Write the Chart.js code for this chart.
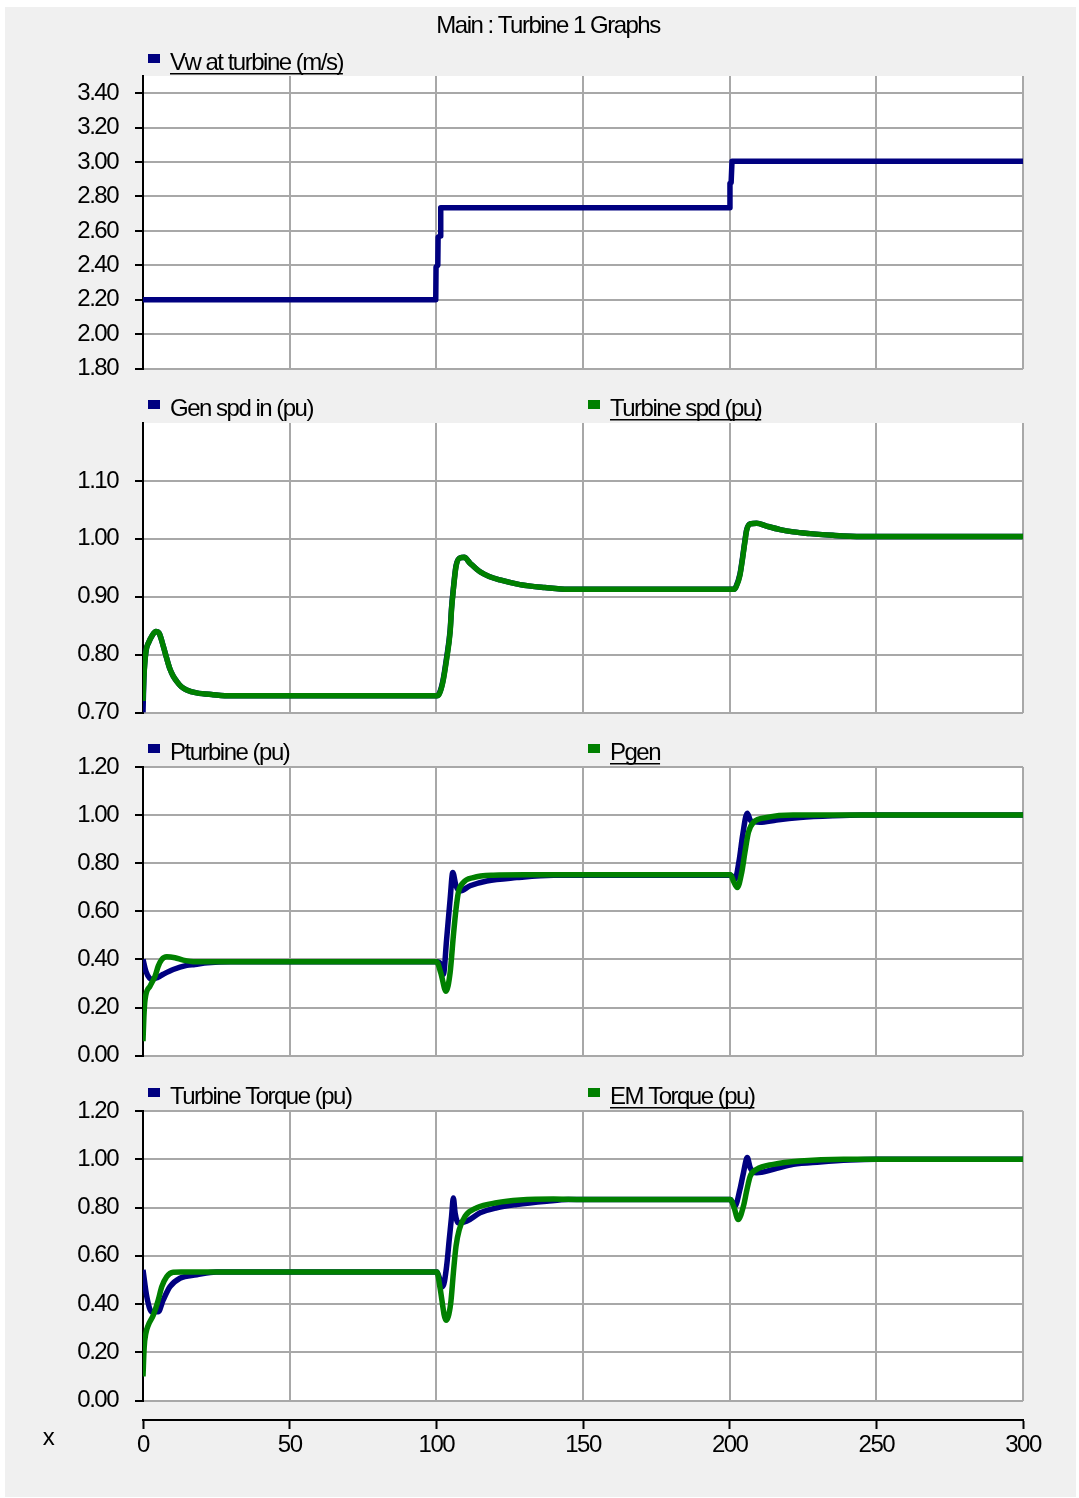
<!DOCTYPE html>
<html><head><meta charset="utf-8">
<script src="https://cdn.jsdelivr.net/npm/chart.js@4.4.0/dist/chart.umd.min.js"></script>
<style>
html,body{margin:0;padding:0;background:#fff;width:1079px;height:1498px;overflow:hidden}
#frame{position:absolute;left:5px;top:7px;width:1071px;height:1490px;background:#f0f0f0}
canvas{position:absolute;left:0}
</style></head><body>
<div id="frame"></div>
<canvas id="c1"></canvas>
<canvas id="c2"></canvas>
<canvas id="c3"></canvas>
<canvas id="c4"></canvas>
<canvas id="cx"></canvas>
<script>
// ---------------- DATA ----------------
const chartTitle = "Main : Turbine 1 Graphs";
const xTicks = [0, 50, 100, 150, 200, 250, 300];
const vwTicks = [1.8, 2.0, 2.2, 2.4, 2.6, 2.8, 3.0, 3.2, 3.4];
const spdTicks = [0.7, 0.8, 0.9, 1.0, 1.1];
const pTicks = [0, 0.2, 0.4, 0.6, 0.8, 1.0, 1.2];
const tqTicks = [0, 0.2, 0.4, 0.6, 0.8, 1.0, 1.2];

// Panel 1: wind speed
const vwLabel = "Vw at turbine (m/s)";
const vwT = [0, 99.8, 99.9, 100.5, 100.6, 101.3, 101.5, 200.0, 200.1, 200.5, 200.8, 300];
const vwV = [2.2, 2.2, 2.39, 2.40, 2.565, 2.57, 2.735, 2.735, 2.877, 2.88, 3.005, 3.005];

// Panel 2: speeds
const genSpdLabel = "Gen spd in (pu)";
const turbSpdLabel = "Turbine spd (pu)";
const spdT = [0, 0.3, 1.0, 2.0, 3.0, 4.4, 5.5, 6.9, 8.0, 9.2, 10.3, 11.5, 13, 14.9, 18.3, 23.9, 30,
  100.2, 101.0, 102.2, 103.5, 104.7, 105.2, 105.8, 106.7, 108.0, 109.5, 111.5, 114.9, 118, 121.7, 128.5, 137, 145,
  201.5, 202.2, 203.5, 204.4, 205.2, 205.8, 207, 209.2, 212.6, 217.2, 221.7, 227.4, 235.2, 245, 300];
const turbSpdV = [0.72, 0.76, 0.805, 0.822, 0.832, 0.840, 0.837, 0.815, 0.795, 0.775, 0.763, 0.754, 0.745, 0.739, 0.734, 0.731, 0.729,
  0.729, 0.732, 0.752, 0.792, 0.839, 0.879, 0.912, 0.952, 0.967, 0.968, 0.958, 0.943, 0.935, 0.929, 0.921, 0.916, 0.913,
  0.913, 0.917, 0.937, 0.966, 0.995, 1.015, 1.026, 1.027, 1.022, 1.016, 1.012, 1.009, 1.006, 1.004, 1.004];
const genSpdV = [0.70, 0.76, 0.805, 0.822, 0.832, 0.840, 0.837, 0.815, 0.795, 0.775, 0.763, 0.754, 0.745, 0.739, 0.734, 0.731, 0.729,
  0.729, 0.733, 0.754, 0.795, 0.842, 0.882, 0.914, 0.953, 0.967, 0.968, 0.958, 0.943, 0.935, 0.929, 0.921, 0.916, 0.913,
  0.913, 0.918, 0.939, 0.968, 0.997, 1.016, 1.026, 1.027, 1.022, 1.016, 1.012, 1.009, 1.006, 1.004, 1.004];

// Panel 3: powers
const pturbLabel = "Pturbine (pu)";
const pgenLabel = "Pgen";
const pturbT = [0, 1.0, 3.0, 5.0, 6.9, 10.3, 14.9, 17.7, 22, 30,
  100.3, 101.8, 102.4, 103.5, 104.7, 105.6, 106.7, 108.1, 111.5, 117.2, 127.4, 140,
  200.3, 201.0, 201.8, 203.3, 204.4, 206.0, 207.2, 210.3, 216, 224, 235.3, 245, 300];
const pturbV = [0.40, 0.35, 0.317, 0.325, 0.338, 0.358, 0.375, 0.379, 0.386, 0.39,
  0.39, 0.372, 0.338, 0.483, 0.65, 0.761, 0.706, 0.685, 0.706, 0.726, 0.74, 0.75,
  0.75, 0.745, 0.733, 0.817, 0.914, 1.008, 0.976, 0.97, 0.98, 0.99, 0.997, 1.0, 1.0];
const pgenT = [0, 0.3, 0.7, 2.4, 4.1, 5.2, 6.4, 8.1, 10.9, 13.7, 18,
  100.1, 101.5, 103.3, 104.7, 105.8, 106.7, 107.5, 109.2, 112.6, 119.4, 130,
  200.3, 201.3, 202.6, 204.1, 205.2, 206.4, 208.1, 212.6, 221.6, 300];
const pgenV = [0.06, 0.16, 0.233, 0.289, 0.33, 0.372, 0.40, 0.411, 0.407, 0.397, 0.39,
  0.39, 0.345, 0.268, 0.345, 0.497, 0.608, 0.678, 0.72, 0.74, 0.75, 0.752,
  0.752, 0.725, 0.699, 0.761, 0.845, 0.928, 0.97, 0.99, 1.0, 1.0];

// Panel 4: torques
const tturbLabel = "Turbine Torque (pu)";
const temLabel = "EM Torque (pu)";
const tturbT = [0, 1.3, 3.0, 5.2, 6.9, 9.2, 12.6, 18.3, 25,
  100.2, 101.0, 102.2, 103.5, 104.4, 105.2, 105.8, 106.4, 107.5, 110.3, 114.9, 120.6, 127.4, 137.6, 145,
  200.3, 201.0, 201.8, 203.5, 204.7, 206.0, 207.0, 209.2, 214.9, 221.7, 230.8, 241, 250, 300];
const tturbV = [0.542, 0.43, 0.368, 0.368, 0.417, 0.472, 0.507, 0.521, 0.533,
  0.533, 0.51, 0.472, 0.556, 0.667, 0.764, 0.84, 0.778, 0.736, 0.743, 0.778, 0.799, 0.8125, 0.826, 0.833,
  0.833, 0.82, 0.806, 0.875, 0.944, 1.007, 0.965, 0.944, 0.958, 0.979, 0.989, 0.997, 1.0, 1.0];
const temT = [0, 0.4, 1.0, 1.8, 3.5, 5.2, 6.4, 8.1, 10.3, 13,
  100.2, 101.2, 103.3, 104.9, 105.8, 106.7, 107.8, 109.8, 113.8, 120.6, 128.5, 139.9, 150,
  200.3, 201.5, 202.9, 204.7, 205.9, 207.0, 209.2, 214.9, 224, 238.8, 300];
const temV = [0.10, 0.22, 0.28, 0.3125, 0.354, 0.417, 0.472, 0.514, 0.532, 0.533,
  0.533, 0.472, 0.333, 0.403, 0.528, 0.639, 0.708, 0.764, 0.799, 0.82, 0.831, 0.835, 0.833,
  0.833, 0.80, 0.75, 0.806, 0.875, 0.93, 0.958, 0.979, 0.993, 1.0, 1.0];

// ---------------- STYLE / LAYOUT ----------------
const FONT = "'Liberation Sans', Arial, sans-serif";
const NAVY = '#000080', GREEN = '#008000', GRID = '#a8a8a8';
const LS = '-1.5px';

function pts(t, v) { return t.map((x, i) => ({ x: x, y: v[i] })); }

const textPlugin = {
  id: 'panelText',
  beforeDraw(chart) {
    const ctx = chart.ctx;
    ctx.letterSpacing = LS;
    const o = chart.options.plugins.panelText || {};
    const a = chart.chartArea;
    if (a && o.whiteArea) {
      ctx.save();
      ctx.fillStyle = '#fff';
      ctx.fillRect(a.left, a.top, a.right - a.left, a.bottom - a.top);
      ctx.restore();
    }
  },
  afterDraw(chart) {
    const o = chart.options.plugins.panelText || {};
    const ctx = chart.ctx;
    ctx.save();
    ctx.letterSpacing = LS;
    ctx.font = '24px ' + FONT;
    ctx.fillStyle = '#000';
    ctx.textBaseline = 'middle';
    if (o.title) {
      ctx.textAlign = 'center';
      ctx.fillText(o.title, o.titleX, o.titleY);
    }
    if (o.legendY != null) {
      const ds = chart.data.datasets;
      ds.forEach((d, i) => {
        const x = o.legendX[i];
        ctx.fillStyle = d.borderColor;
        ctx.fillRect(x, o.legendY - 8, 12, 9);
        ctx.fillStyle = '#000';
        ctx.textAlign = 'left';
        ctx.fillText(d.label, x + 22, o.legendY + 1);
        if (i === ds.length - 1) {
          const w = ctx.measureText(d.label).width;
          ctx.fillRect(x + 22, o.legendY + 11, w, 1.5);
        }
      });
    }
    if (o.xLabel) {
      ctx.textAlign = 'center';
      ctx.fillText(o.xLabel, o.xLabelX, o.xLabelY);
    }
    ctx.restore();
  }
};

function makePanel(id, cfg) {
  const canvas = document.getElementById(id);
  const top = cfg.canvasTop;
  const h = cfg.plotBottom + 32 - top;
  canvas.width = 1079; canvas.height = h;
  canvas.style.top = top + 'px';
  new Chart(canvas, {
    type: 'line',
    data: { datasets: cfg.datasets },
    options: {
      responsive: false, animation: false, devicePixelRatio: 1,
      layout: { padding: { top: cfg.plotTop - top, bottom: 12, left: 0, right: 56 } },
      plugins: {
        legend: { display: false }, tooltip: { enabled: false },
        panelText: { whiteArea: true, title: cfg.title, titleX: 548, titleY: 26 - top,
          legendY: cfg.legendY - top, legendX: [148, 588] }
      },
      elements: { point: { radius: 0 }, line: { borderWidth: 5, tension: 0, borderCapStyle: 'butt', borderJoinStyle: 'round' } },
      scales: {
        x: { type: 'linear', min: xTicks[0], max: xTicks[xTicks.length - 1],
          afterBuildTicks(s) { s.ticks = xTicks.map(v => ({ value: v })); },
          ticks: { display: false },
          grid: { color: GRID, lineWidth: 2, drawTicks: false },
          border: { display: false },
          afterFit(s) { s.height = 0; } },
        y: { type: 'linear', min: cfg.min, max: cfg.max,
          ticks: { color: '#000', font: { family: FONT, size: 24 }, padding: 17, autoSkip: false,
            callback: v => Number(v).toFixed(2) },
          grid: { color: GRID, lineWidth: 2, tickColor: '#000', tickLength: 8, tickWidth: 2 },
          border: { color: '#000', width: 2 },
          afterFit(s) { s.width = 143; },
          afterBuildTicks(s) { s.ticks = cfg.ticks.map(v => ({ value: v })); } }
      }
    },
    plugins: [textPlugin]
  });
}

function ds(label, t, v, color, order, smooth) {
  return { label: label, data: pts(t, v), borderColor: color, backgroundColor: color, order: order,
    borderWidth: 5.5, pointRadius: 0, fill: false,
    cubicInterpolationMode: smooth ? 'monotone' : 'default', tension: smooth ? 0.4 : 0 };
}

makePanel('c1', { canvasTop: 0, plotTop: 76, plotBottom: 368, legendY: 62, min: 1.8, max: 3.5, ticks: vwTicks,
  title: chartTitle,
  datasets: [ds(vwLabel, vwT, vwV, NAVY, 1, false)] });
makePanel('c2', { canvasTop: 388, plotTop: 423, plotBottom: 712, legendY: 408, min: 0.7, max: 1.2, ticks: spdTicks,
  datasets: [ds(genSpdLabel, spdT, genSpdV, NAVY, 1, true), ds(turbSpdLabel, spdT, turbSpdV, GREEN, 0, true)] });
makePanel('c3', { canvasTop: 732, plotTop: 767, plotBottom: 1055, legendY: 752, min: 0, max: 1.2, ticks: pTicks,
  datasets: [ds(pturbLabel, pturbT, pturbV, NAVY, 1, true), ds(pgenLabel, pgenT, pgenV, GREEN, 0, true)] });
makePanel('c4', { canvasTop: 1076, plotTop: 1111, plotBottom: 1400, legendY: 1096, min: 0, max: 1.2, ticks: tqTicks,
  datasets: [ds(tturbLabel, tturbT, tturbV, NAVY, 1, true), ds(temLabel, temT, temV, GREEN, 0, true)] });

// Shared x axis
(function () {
  const canvas = document.getElementById('cx');
  const top = 1410;
  canvas.width = 1079; canvas.height = 60;
  canvas.style.top = top + 'px';
  new Chart(canvas, {
    type: 'line',
    data: { datasets: [] },
    options: {
      responsive: false, animation: false, devicePixelRatio: 1,
      layout: { padding: { top: 5, bottom: 0, left: 143, right: 56 } },
      plugins: { legend: { display: false }, tooltip: { enabled: false },
        panelText: { xLabel: 'x', xLabelX: 48, xLabelY: 1438 - top } },
      scales: {
        x: { type: 'linear', position: 'bottom', min: xTicks[0], max: xTicks[xTicks.length - 1],
          afterBuildTicks(s) { s.ticks = xTicks.map(v => ({ value: v })); },
          ticks: { color: '#000', font: { family: FONT, size: 24 }, padding: 2, maxRotation: 0, autoSkip: false },
          grid: { drawOnChartArea: false, tickLength: 9, tickColor: '#000', tickWidth: 2, color: '#000' },
          border: { color: '#000', width: 2 },
          afterFit(s) { s.height = 50; } },
        y: { display: false, min: 0, max: 1 }
      }
    },
    plugins: [textPlugin]
  });
})();
</script>
</body></html>
